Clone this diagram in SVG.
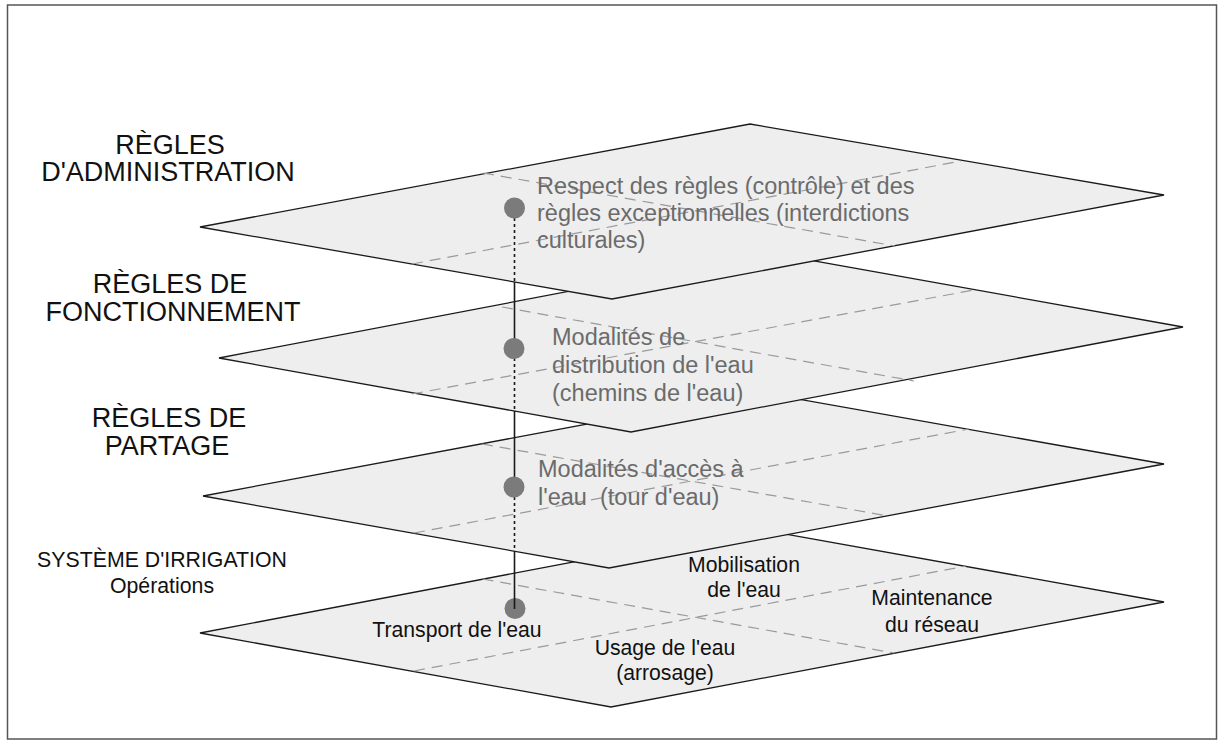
<svg xmlns="http://www.w3.org/2000/svg" width="1218" height="744" viewBox="0 0 1218 744">
<style>
.plane{fill:#eeeeee;stroke:#1a1a1a;stroke-width:1.3;stroke-linejoin:miter}
.mid{fill:none;stroke:#9a9a9a;stroke-width:1.2;stroke-dasharray:11 7}
.lbl{font-family:"Liberation Sans",Arial,sans-serif;font-size:27px;fill:#111;text-anchor:middle}
.lbl2{font-family:"Liberation Sans",Arial,sans-serif;font-size:21.3px;fill:#111;text-anchor:middle}
.gt{font-family:"Liberation Sans",Arial,sans-serif;font-size:23.5px;fill:#6b6b6b}
.bt{font-family:"Liberation Sans",Arial,sans-serif;font-size:21.2px;fill:#111;text-anchor:middle}
.solid{stroke:#1a1a1a;stroke-width:1.6;fill:none}
.dot{stroke:#1a1a1a;stroke-width:1.6;stroke-dasharray:3 3;fill:none}
.pt{fill:#7b7b7b}
</style>
<rect x="7.5" y="5" width="1209" height="734" fill="#ffffff" stroke="#555" stroke-width="1.5"/>

<g id="labels">
<text class="lbl" x="170" y="154">RÈGLES</text>
<text class="lbl" x="168" y="181">D'ADMINISTRATION</text>
<text class="lbl" x="170" y="293">RÈGLES DE</text>
<text class="lbl" x="173" y="321">FONCTIONNEMENT</text>
<text class="lbl" x="169" y="427">RÈGLES DE</text>
<text class="lbl" x="167" y="455">PARTAGE</text>
<text class="lbl2" x="162" y="567">SYSTÈME D'IRRIGATION</text>
<text class="lbl2" x="162" y="593">Opérations</text>
</g>

<g id="plane4">
<polygon class="plane" points="200,633 752,528 1164,602 611,707"/>
<line class="mid" x1="482.5" y1="579" x2="894" y2="653"/>
<line class="mid" x1="414" y1="671" x2="966" y2="566"/>
<text class="bt" x="457" y="637">Transport de l'eau</text>
<text class="bt" x="665" y="655">Usage de l'eau</text>
<text class="bt" x="665" y="680">(arrosage)</text>
<text class="bt" x="744" y="572">Mobilisation</text>
<text class="bt" x="744" y="597">de l'eau</text>
<text class="bt" x="932" y="605">Maintenance</text>
<text class="bt" x="932" y="632">du réseau</text>
</g>

<g id="plane3">
<polygon class="plane" points="203,496 758,392 1164,464 609,568"/>
<line class="mid" x1="482" y1="444" x2="888" y2="516"/>
<line class="mid" x1="414" y1="533" x2="969" y2="429"/>
<text class="gt" x="538" y="477">Modalités d'accès à</text>
<text class="gt" x="538" y="505" xml:space="preserve">l'eau  (tour d'eau)</text>
</g>

<g id="plane2">
<polygon class="plane" points="219,358 770,253 1183,327 631,432"/>
<line class="mid" x1="502" y1="307" x2="914" y2="381"/>
<line class="mid" x1="412" y1="394" x2="974" y2="290"/>
<text class="gt" x="552" y="345">Modalités de</text>
<text class="gt" x="552" y="373">distribution de l'eau</text>
<text class="gt" x="552" y="401">(chemins de l'eau)</text>
</g>

<g id="plane1">
<polygon class="plane" points="200,227 750,124 1164,195 612,299"/>
<line class="mid" x1="483" y1="173" x2="895" y2="246"/>
<line class="mid" x1="412" y1="264" x2="961" y2="161"/>
<text class="gt" x="537" y="194">Respect des règles (contrôle) et des</text>
<text class="gt" x="537" y="221">règles exceptionnelles (interdictions</text>
<text class="gt" x="537" y="248">culturales)</text>
</g>

<g id="connectors">
<line class="dot" x1="514.5" y1="218" x2="514.5" y2="282"/>
<line class="solid" x1="514.5" y1="282" x2="514.5" y2="348"/>
<line class="dot" x1="514.5" y1="358" x2="514.5" y2="411"/>
<line class="solid" x1="514.5" y1="411" x2="514.5" y2="487"/>
<line class="dot" x1="514.5" y1="497" x2="514.5" y2="551"/>
<circle class="pt" cx="514.5" cy="208" r="10.5"/>
<circle class="pt" cx="514" cy="348.5" r="10.5"/>
<circle class="pt" cx="514" cy="487" r="10.5"/>
<circle class="pt" cx="515" cy="608.5" r="10.5"/>
<line class="solid" x1="514.5" y1="551" x2="514.5" y2="609"/>
</g>
</svg>
